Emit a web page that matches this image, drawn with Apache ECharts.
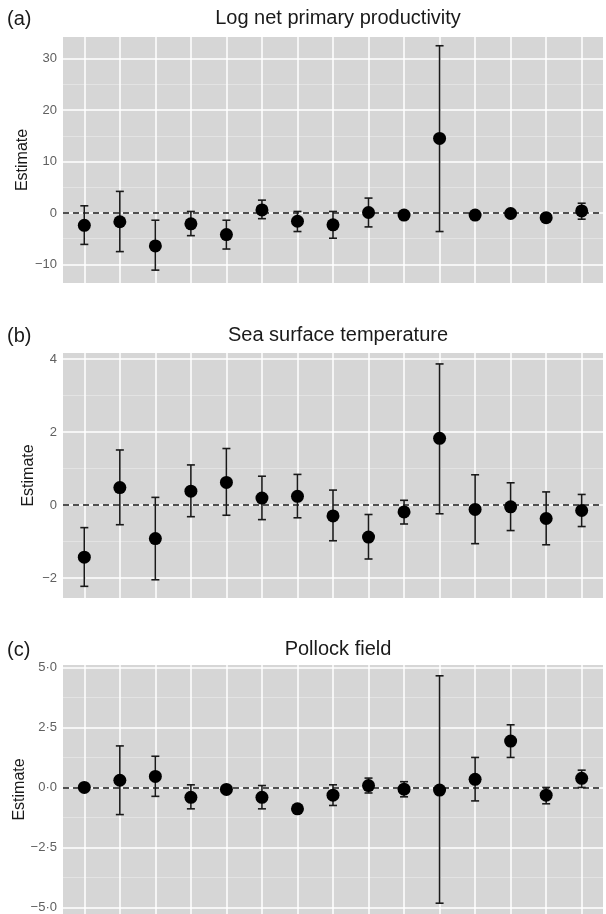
<!DOCTYPE html>
<html>
<head>
<meta charset="utf-8">
<script src="https://cdn.jsdelivr.net/npm/echarts@6/dist/echarts.min.js"></script>
<style>
  html, body { margin: 0; padding: 0; background: #fff; }
  #chart { width: 606px; height: 914px; }
</style>
</head>
<body>
<div id="chart"></div>
<script>
  // term positions along the (unlabelled) x axis
  const positions = [1, 2, 3, 4, 5, 6, 7, 8, 9, 10, 11, 12, 13, 14, 15]

  // (a) Log net primary productivity
  const nppEst  = [-2.4, -1.7, -6.4, -2.1, -4.2, 0.6, -1.6, -2.3, 0.1, -0.4, 14.5, -0.4, -0.1, -0.9, 0.4]
  const nppLow  = [-6.1, -7.5, -11.1, -4.4, -7.0, -1.1, -3.6, -4.9, -2.7, -0.9, -3.6, -0.9, -0.6, -1.4, -1.2]
  const nppHigh = [1.4, 4.2, -1.4, 0.3, -1.4, 2.5, 0.3, 0.3, 2.9, 0.1, 32.5, 0.1, 0.4, -0.4, 1.9]
  const nppTicks = [-10, 0, 10, 20, 30]
  const nppMinor = [-5, 5, 15, 25]

  // (b) Sea surface temperature
  const sstEst  = [-1.43, 0.48, -0.92, 0.38, 0.62, 0.19, 0.24, -0.30, -0.88, -0.19, 1.83, -0.12, -0.05, -0.37, -0.15]
  const sstLow  = [-2.23, -0.54, -2.05, -0.32, -0.28, -0.40, -0.35, -0.98, -1.48, -0.52, -0.24, -1.06, -0.70, -1.09, -0.59]
  const sstHigh = [-0.62, 1.51, 0.21, 1.10, 1.55, 0.79, 0.84, 0.41, -0.26, 0.13, 3.87, 0.83, 0.61, 0.36, 0.29]
  const sstTicks = [-2, 0, 2, 4]
  const sstMinor = [-1, 1, 3]

  // (c) Pollock field
  const pollockEst  = [0.0, 0.30, 0.46, -0.41, -0.08, -0.41, -0.89, -0.32, 0.08, -0.07, -0.11, 0.34, 1.93, -0.32, 0.38]
  const pollockLow  = [-0.15, -1.13, -0.37, -0.89, -0.18, -0.89, -1.04, -0.75, -0.23, -0.39, -4.82, -0.56, 1.25, -0.68, 0.0]
  const pollockHigh = [0.15, 1.73, 1.30, 0.11, 0.02, 0.08, -0.74, 0.11, 0.39, 0.24, 4.65, 1.25, 2.61, 0.0, 0.72]
  const pollockTicks = [-5, -2.5, 0, 2.5, 5]
  const pollockMinor = [-3.75, -1.25, 1.25, 3.75]

  const font = '"Liberation Sans", Arial, Helvetica, sans-serif'

  const panels = [
    { tag: '(a)', title: 'Log net primary productivity', est: nppEst, low: nppLow, high: nppHigh,
      ticks: nppTicks, minor: nppMinor, min: -13.6, max: 34.2, top: 37, height: 246, titleTop: 3, nameGap: 32,
      fmt: v => String(v).replace('-', '\u2212') },
    { tag: '(b)', title: 'Sea surface temperature', est: sstEst, low: sstLow, high: sstHigh,
      ticks: sstTicks, minor: sstMinor, min: -2.55, max: 4.17, top: 353, height: 245, titleTop: 320, nameGap: 26,
      fmt: v => String(v).replace('-', '\u2212') },
    { tag: '(c)', title: 'Pollock field', est: pollockEst, low: pollockLow, high: pollockHigh,
      ticks: pollockTicks, minor: pollockMinor, min: -5.27, max: 5.1, top: 665, height: 249, titleTop: 634, nameGap: 35,
      fmt: v => Number(v).toFixed(1).replace('-', '\u2212').replace('.', '\u00b7') }
  ]

  function renderErrorBar(params, api) {
    const x = api.value(0)
    const lo = api.coord([x, api.value(1)])
    const hi = api.coord([x, api.value(2)])
    const cap = 4
    return {
      type: 'group',
      children: [
        { type: 'line', shape: { x1: lo[0], y1: lo[1], x2: hi[0], y2: hi[1] }, style: { stroke: '#1a1a1a', lineWidth: 1.6 } },
        { type: 'line', shape: { x1: lo[0] - cap, y1: lo[1], x2: lo[0] + cap, y2: lo[1] }, style: { stroke: '#1a1a1a', lineWidth: 1.6 } },
        { type: 'line', shape: { x1: hi[0] - cap, y1: hi[1], x2: hi[0] + cap, y2: hi[1] }, style: { stroke: '#1a1a1a', lineWidth: 1.6 } }
      ]
    }
  }

  const chart = echarts.init(document.getElementById('chart'))

  const option = {
    animation: false,
    title: [],
    grid: [],
    xAxis: [],
    yAxis: [],
    series: []
  }

  panels.forEach((p, i) => {
    option.title.push({
      text: p.title, left: 333, top: p.titleTop, textAlign: 'center',
      textStyle: { fontFamily: font, fontSize: 20, fontWeight: 'normal', color: '#1a1a1a' }
    })
    option.title.push({
      text: p.tag, left: 2, top: p.titleTop + 1,
      textStyle: { fontFamily: font, fontSize: 20, fontWeight: 'normal', color: '#1a1a1a' }
    })
    option.grid.push({
      left: 63, right: 3, top: p.top, height: p.height,
      outerBoundsMode: 'none', containLabel: false,
      show: true, backgroundColor: '#d6d6d6', borderWidth: 0
    })
    option.xAxis.push({
      type: 'value', gridIndex: i, min: 0.4, max: 15.6,
      axisLine: { show: false }, axisTick: { show: false },
      axisLabel: { show: false }, splitLine: { show: false }
    })
    option.yAxis.push({
      type: 'value', gridIndex: i, min: p.min, max: p.max,
      name: 'Estimate', nameLocation: 'middle', nameGap: p.nameGap, nameMoveOverlap: false,
      nameTextStyle: { fontFamily: font, fontSize: 16, color: '#1a1a1a' },
      axisLine: { show: false }, axisTick: { show: false }, splitLine: { show: false },
      axisLabel: {
        customValues: p.ticks, formatter: p.fmt, margin: 6,
        fontFamily: font, fontSize: 13, color: '#606060'
      }
    })

    const gridLines = []
    p.minor.forEach(v => gridLines.push({ yAxis: v, lineStyle: { color: '#e6e6e6', width: 0.8, type: 'solid' } }))
    p.ticks.forEach(v => gridLines.push({ yAxis: v, lineStyle: { color: '#ffffff', width: 1.5, type: 'solid' } }))
    positions.forEach(v => gridLines.push({ xAxis: v, lineStyle: { color: '#ffffff', width: 1.5, type: 'solid' } }))

    option.series.push({
      type: 'line', xAxisIndex: i, yAxisIndex: i, data: [], z: 1, silent: true,
      markLine: { z: 1, silent: true, symbol: ['none', 'none'], label: { show: false }, animation: false, data: gridLines }
    })
    option.series.push({
      type: 'line', xAxisIndex: i, yAxisIndex: i, data: [], z: 2, silent: true,
      markLine: {
        z: 2, silent: true, symbol: ['none', 'none'], label: { show: false }, animation: false,
        data: [{ yAxis: 0, lineStyle: { color: '#1a1a1a', width: 1.5, type: [6, 4] } }]
      }
    })
    option.series.push({
      type: 'custom', xAxisIndex: i, yAxisIndex: i, z: 3, silent: true,
      renderItem: renderErrorBar,
      encode: { x: 0, y: [1, 2] },
      data: positions.map((x, k) => [x, p.low[k], p.high[k]])
    })
    option.series.push({
      type: 'scatter', xAxisIndex: i, yAxisIndex: i, z: 4, silent: true,
      symbolSize: 13, itemStyle: { color: '#000', opacity: 1 },
      data: positions.map((x, k) => [x, p.est[k]])
    })
  })

  chart.setOption(option)
</script>
</body>
</html>
